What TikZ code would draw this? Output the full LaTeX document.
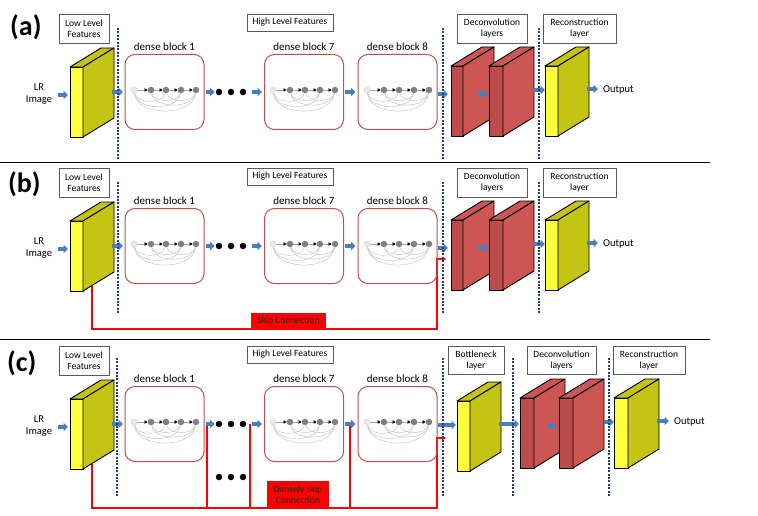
\documentclass[tikz,border=0pt]{standalone}
\usepackage{fontspec}
\setmainfont{Carlito}
\usetikzlibrary{arrows.meta,calc}
\definecolor{arrowblue}{RGB}{74,126,193}
\definecolor{dotblue}{RGB}{38,64,110}
\definecolor{blockred}{RGB}{192,80,77}
\definecolor{yfront}{RGB}{255,255,64}
\definecolor{yside}{RGB}{196,196,20}
\definecolor{rfront}{RGB}{188,76,74}
\definecolor{rside}{RGB}{204,86,84}
\definecolor{lbox}{RGB}{90,90,90}
\definecolor{gdark}{RGB}{128,128,128}
\definecolor{glight}{RGB}{232,232,232}
\definecolor{gcurve}{RGB}{200,200,200}
\definecolor{skipred}{RGB}{255,0,0}
\tikzset{
  barrow/.style={draw=arrowblue, line width=3.4pt, -{Triangle[length=4.5pt,width=8.5pt]}},
  dotline/.style={draw=dotblue, line width=2.6pt, dash pattern=on 2pt off 1.4pt},
  lblbox/.style={draw=lbox, line width=0.8pt, fill=white, font=\fontsize{9.5}{11}\selectfont, align=center, inner sep=1pt},
  dblock/.style={draw=blockred, line width=1pt, rounded corners=10pt, minimum width=79pt, minimum height=75pt, inner sep=0pt},
  dlabel/.style={font=\fontsize{11}{13}\selectfont, inner sep=1pt},
  gl/.style={circle, fill=glight, draw=gray!35, line width=0.3pt, minimum size=6.5pt, inner sep=0pt},
  gd/.style={circle, fill=gdark, minimum size=6.5pt, inner sep=0pt},
  garrow/.style={draw=gray!70, line width=0.5pt, -{Triangle[length=3pt,width=3.4pt, color=black]}},
  gcurv/.style={draw=gcurve, line width=0.5pt},
  bdot/.style={circle, fill=black, minimum size=6.5pt, inner sep=0pt},
  face/.style={draw=black, line width=0.9pt, line join=round},
  skipline/.style={draw=skipred, line width=1.2pt},
  skiparrow/.style={draw=skipred, line width=1.2pt, -{Stealth[length=4.5pt,width=5pt]}},
  skipbox/.style={fill=skipred, text=black!85, font=\fontsize{9.5}{11}\selectfont, align=center, inner sep=0pt},
  plabel/.style={font=\fontsize{28}{30}\selectfont\bfseries, anchor=west, inner sep=0pt},
  txt/.style={font=\fontsize{10.5}{12.5}\selectfont, align=center, inner sep=1pt},
  sepline/.style={draw=black, line width=1.5pt},
}
% slab: name, x-left, y-top, width, front colour, side colour
\newcommand\slab[6]{%
  \node[face, fill=#5, minimum width=#4pt, minimum height=70pt, inner sep=0pt, outer sep=0pt, anchor=north west] (#1) at (#2,#3) {};
  \filldraw[face, fill=#6] (#1.north west) -- ++(31,-19) -- ++(#4,0) -- (#1.north east) -- cycle;
  \filldraw[face, fill=#6] (#1.north east) -- ++(31,-19) -- ++(0,70) -- (#1.south east) -- cycle;
}
% dense graph: prefix, x of first node, y
\newcommand\dgraph[3]{%
  \node[gl] (#1g0) at (#2,#3) {};
  \node[gd] (#1g1) at (#2+17,#3) {};
  \node[gd] (#1g2) at (#2+32,#3) {};
  \node[gd] (#1g3) at (#2+47,#3) {};
  \node[gd] (#1g4) at (#2+62,#3) {};
  \draw[gcurv] (#1g0) .. controls +(3,14) and +(-3,14) .. (#1g2);
  \draw[gcurv] (#1g0) .. controls +(3,21) and +(-3,21) .. (#1g3);
  \draw[gcurv] (#1g0) .. controls +(3,27) and +(-3,27) .. (#1g4);
  \draw[gcurv] (#1g1) .. controls +(3,13) and +(-3,13) .. (#1g3);
  \draw[gcurv] (#1g1) .. controls +(3,19) and +(-3,19) .. (#1g4);
  \draw[gcurv] (#1g2) .. controls +(3,13) and +(-3,13) .. (#1g4);
  \draw[garrow] (#1g0) -- (#1g1);
  \draw[garrow] (#1g1) -- (#1g2);
  \draw[garrow] (#1g2) -- (#1g3);
  \draw[garrow] (#1g3) -- (#1g4);
}
% common left part of a panel
\newcommand\leftpart[1]{%
  \node[lblbox, minimum width=50pt, minimum height=29pt] (#1low) at (84,28.5) {Low Level\\Features};
  \node[lblbox, minimum width=86pt, minimum height=17pt] (#1high) at (290,22.5) {High Level Features};
  \node[txt] (#1lr) at (39,94) {LR\\Image};
  \slab{#1inp}{70}{67}{13}{yfront}{yside}
  \node[dblock] (#1d1) at (164.5,92) {};
  \node[dblock] (#1d7) at (304,92) {};
  \node[dblock] (#1d8) at (397.5,92) {};
  \node[dlabel, anchor=south] (#1l1) at ([yshift=2pt]#1d1.north) {dense block 1};
  \node[dlabel, anchor=south] (#1l7) at ([yshift=2pt]#1d7.north) {dense block 7};
  \node[dlabel, anchor=south] (#1l8) at ([yshift=2pt]#1d8.north) {dense block 8};
  \dgraph{#1a}{134}{90}
  \dgraph{#1b}{273}{90}
  \dgraph{#1c}{367}{90}
  \node[bdot] (#1p1) at (219,92) {};
  \node[bdot] (#1p2) at (231,92) {};
  \node[bdot] (#1p3) at (243,92) {};
  \coordinate (#1lrout) at (58,95);
  \draw[barrow, shorten >=2pt] (#1lrout) -- (#1inp.west |- #1lrout);
  \draw[barrow] ([xshift=-13pt]#1d1.west) -- ([xshift=-1.5pt]#1d1.west);
  \draw[barrow] ([xshift=1pt]#1d1.east) -- ([xshift=-1pt]#1p1.west);
  \draw[barrow] ([xshift=6pt]#1p3.east) -- ([xshift=-2pt]#1d7.west);
  \draw[barrow] ([xshift=0.5pt]#1d7.east) -- ([xshift=-2pt]#1d8.west);
}
% right part of panels (a) and (b)
\newcommand\rightAB[1]{%
  \node[lblbox, minimum width=70pt, minimum height=29pt] (#1dec) at (492,28.5) {Deconvolution\\layers};
  \node[lblbox, minimum width=73pt, minimum height=29pt] (#1rec) at (579.5,28.5) {Reconstruction\\layer};
  \slab{#1r1}{451}{66}{12}{rfront}{rside}
  \slab{#1r2}{489}{66}{14}{rfront}{rside}
  \slab{#1out}{545}{66}{13}{yfront}{yside}
  \coordinate (#1a1) at (438,94);
  \draw[barrow, shorten >=3pt] (#1a1) -- (#1r1.west |- #1a1);
  \coordinate (#1a2) at (478,94);
  \draw[barrow, shorten >=1pt] (#1a2) -- (#1r2.west |- #1a2);
  \coordinate (#1a3) at (533,90);
  \draw[barrow] (#1a3) -- (#1out.west |- #1a3);
  \coordinate (#1a4) at (587,89);
  \draw[barrow] (#1a4) -- ++(11,0);
  \node[txt, anchor=west] (#1output) at (602,90) {Output};
  \draw[dotline] (118,28) -- (118,160);
  \draw[dotline] (443,28) -- (443,160);
  \draw[dotline] (539,28) -- (539,160);
}
\begin{document}
\begin{tikzpicture}[x=1pt,y=-1pt]
\useasboundingbox (0,0) rectangle (758,516);
\fill[white] (0,0) rectangle (758,516);

% separators
\draw[sepline] (0,162.5) -- (710,162.5);
\draw[sepline] (0,339.5) -- (710,339.5);

% ---------- panel (a)
\node[plabel] (la) at (10,27.5) {(a)};
\leftpart{a}
\rightAB{a}

% ---------- panel (b)
\begin{scope}[shift={(0,154)}]
  \node[plabel] (lb) at (8,30) {(b)};
  \coordinate (bs0) at (92,131);
  \coordinate (bs1) at (92,175);
  \coordinate (bs2) at (437,175);
  \coordinate (bs3) at (437,105);
  \coordinate (bs4) at (446,105);
  \draw[skiparrow] (bs0) -- (bs1) -- (bs2) -- (bs3) -- (bs4);
  \leftpart{b}
  \rightAB{b}
  \node[skipbox, minimum width=75pt, minimum height=16pt] (bskip) at (288.5,167) {Skip Connection};
\end{scope}

% ---------- panel (c)
\begin{scope}[shift={(0,332)}]
  \node[plabel] (lc) at (7,31) {(c)};
  \coordinate (cs0) at (92,132);
  \coordinate (cs1) at (92,176);
  \coordinate (cs2) at (437,176);
  \coordinate (cs3) at (437,106);
  \coordinate (cs4) at (446,106);
  \draw[skiparrow] (cs0) -- (cs1) -- (cs2) -- (cs3) -- (cs4);
  \coordinate (cv1) at (207,92);
  \coordinate (cv2) at (250,92);
  \coordinate (cv3) at (350,91);
  \draw[skipline] (cv1) -- (cv1 |- cs1);
  \draw[skipline] (cv2) -- (cv2 |- cs1);
  \draw[skipline] (cv3) -- (cv3 |- cs1);
  \leftpart{c}
  \node[bdot] (cq1) at (219,145) {};
  \node[bdot] (cq2) at (231,145) {};
  \node[bdot] (cq3) at (243,145) {};
  \node[skipbox, minimum width=62pt, minimum height=27pt] (cskip) at (298,162.5) {Densely Skip\\Connection};
  % right part
  \node[lblbox, minimum width=56pt, minimum height=28pt] (cbot) at (476,28.5) {Bottleneck\\layer};
  \node[lblbox, minimum width=69pt, minimum height=28pt] (cdec) at (561.5,28.5) {Deconvolution\\layers};
  \node[lblbox, minimum width=72pt, minimum height=28pt] (crec) at (649,28.5) {Reconstruction\\layer};
  \slab{cbn}{457}{69}{13}{yfront}{yside}
  \slab{cr1}{520}{66}{14}{rfront}{rside}
  \slab{cr2}{559}{66}{14}{rfront}{rside}
  \slab{cout}{614}{66}{14}{yfront}{yside}
  \coordinate (ca1) at (438,93);
  \draw[barrow, shorten >=1pt] (ca1) -- (cbn.west |- ca1);
  \coordinate (ca2) at (499,92);
  \draw[barrow, shorten >=1pt] (ca2) -- (cr1.west |- ca2);
  \coordinate (ca3) at (547,94);
  \draw[barrow, shorten >=2pt] (ca3) -- (cr2.west |- ca3);
  \coordinate (ca4) at (604,90);
  \draw[barrow, shorten >=0pt] (ca4) -- (cout.west |- ca4);
  \coordinate (ca5) at (657,89);
  \draw[barrow] (ca5) -- ++(12,0);
  \node[txt, anchor=west] (coutput) at (673,90) {Output};
  \draw[dotline] (117,26) -- (117,165);
  \draw[dotline] (443,26) -- (443,165);
  \draw[dotline] (513,26) -- (513,165);
  \draw[dotline] (609,26) -- (609,165);
\end{scope}
\end{tikzpicture}
\end{document}
